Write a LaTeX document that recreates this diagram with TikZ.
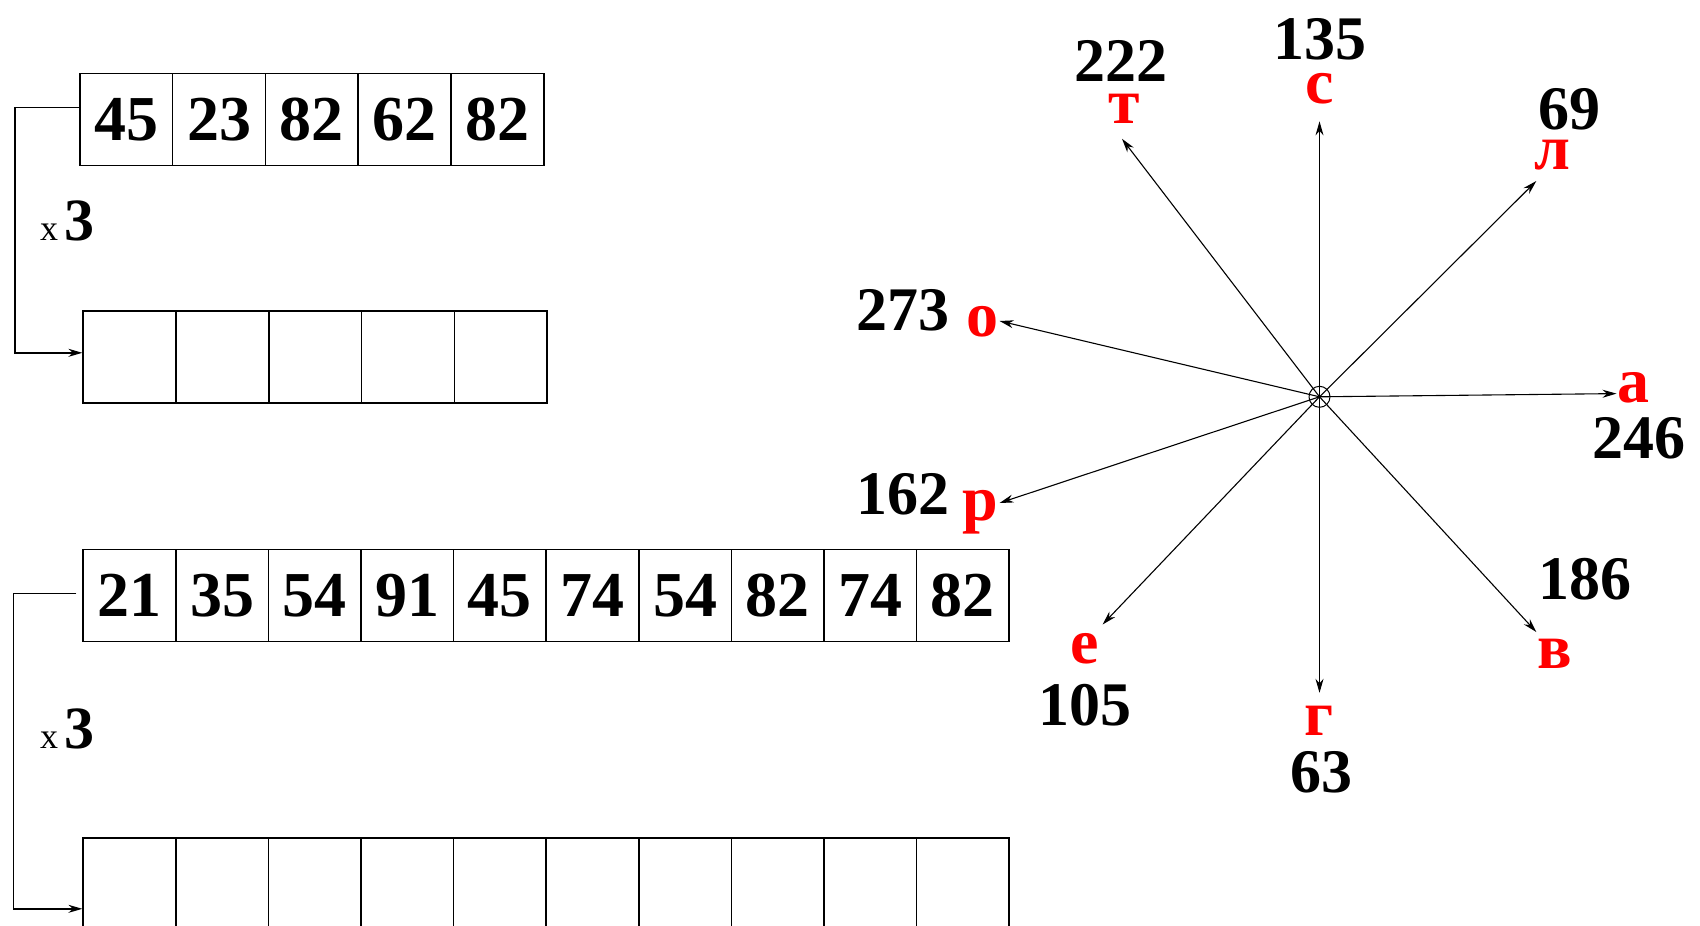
\documentclass[tikz,border=0pt]{standalone}
\usepackage{fontspec}
\setmainfont{Liberation Serif}
\usetikzlibrary{arrows.meta,calc}
\begin{document}
\begin{tikzpicture}[x=1pt,y=-1pt,
  cell/.style={draw,line width=1.6pt,minimum width=92.8pt,minimum height=92pt,inner sep=0pt,anchor=north west,font=\fontsize{64}{64}\selectfont\bfseries},
  lcell/.style={cell,minimum width=92.6pt},
  fb/.style={line width=1.4pt,-{Stealth[length=14pt,width=8pt]}},
  ray/.style={line width=1.1pt,-{Stealth[length=14pt,width=8pt]}},
  letter/.style={inner sep=0pt,text=red,font=\fontsize{64}{64}\selectfont\bfseries},
  num/.style={inner sep=0pt,font=\fontsize{62}{62}\selectfont\bfseries},
  times/.style={inner sep=0pt,anchor=base west}
]
\useasboundingbox (0,0) rectangle (1700,926);
\clip (0,0) rectangle (1700,926);
% top arrays
\foreach \v [count=\i] in {45,23,82,62,82}
  \node[cell] (a\i) at ({79+(\i-1)*92.8},72.6) {\v};
\foreach \i in {1,...,5}
  \node[cell] (b\i) at ({82.4+(\i-1)*92.8},310) {};
\draw[fb] ([yshift=12pt]a1.west) -- ++(-64,0) |- ([yshift=4pt]b1.west);
\node[times] (t1) at (40,240.7) {{\fontsize{36}{36}\selectfont x}\hspace{6pt}{\fontsize{60}{60}\selectfont\bfseries 3}};
% long arrays
\foreach \v [count=\i] in {21,35,54,91,45,74,54,82,74,82}
  \node[lcell] (c\i) at ({82.4+(\i-1)*92.6},548.6) {\v};
\foreach \i in {1,...,10}
  \node[lcell] (d\i) at ({82.4+(\i-1)*92.6},837) {};
\draw[fb] ([xshift=-6pt,yshift=2pt]c1.west) -- ++(-63,0) |- ([yshift=-25pt]d1.west);
\node[times] (t2) at (40,748) {{\fontsize{36}{36}\selectfont x}\hspace{6pt}{\fontsize{60}{60}\selectfont\bfseries 3}};
% star
\node[draw,circle,line width=1pt,minimum size=21pt,inner sep=0pt] (ctr) at (1319.5,396.8) {};
\coordinate (pS) at (1319.5,121.4);
\coordinate (pT) at (1122,138.8);
\coordinate (pL) at (1536.3,181);
\coordinate (pO) at (999.6,321);
\coordinate (pA) at (1616.5,393.6);
\coordinate (pR) at (999.6,503);
\coordinate (pE) at (1102.6,624.5);
\coordinate (pG) at (1319.5,692.8);
\coordinate (pV) at (1536.3,632);
\foreach \p in {pS,pT,pL,pO,pA,pR,pE,pG,pV}
  \draw[ray] (ctr.center) -- (\p);
% letters
\node[letter] (lS) at (1319.5,89) {с};
\node[letter] (lT) at (1124,108.4) {т};
\node[letter] (lL) at (1552.6,155) {л};
\node[letter] (lO) at (982,322) {о};
\node[letter] (lA) at (1633,388) {а};
\node[letter] (lR) at (980,512) {р};
\node[letter] (lE) at (1085,648.4) {е};
\node[letter] (lG) at (1319.5,721) {г};
\node[letter] (lV) at (1555,654) {в};
% numbers
\node[num] (nS) at (1319.5,39) {135};
\node[num] (nT) at (1121,60.7) {222};
\node[num] (nL) at (1569,109.5) {69};
\node[num] (nO) at (903,310) {273};
\node[num] (nA) at (1639,438) {246};
\node[num] (nR) at (903,494.4) {162};
\node[num] (nV) at (1585,579) {186};
\node[num] (nE) at (1085,704.7) {105};
\node[num] (nG) at (1321.6,772) {63};
\end{tikzpicture}
\end{document}
